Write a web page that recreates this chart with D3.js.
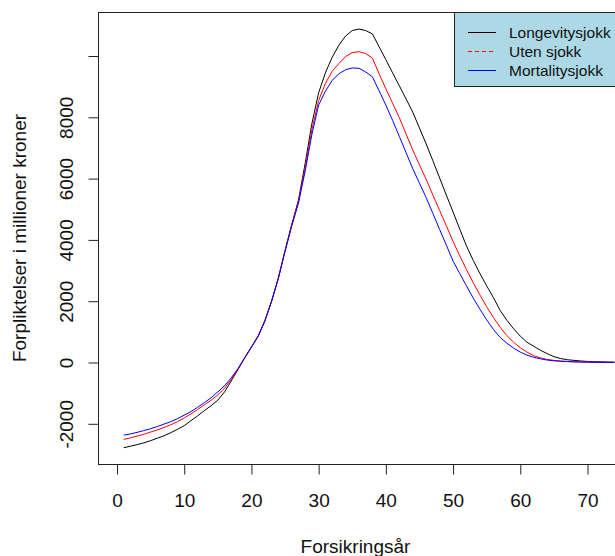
<!DOCTYPE html>
<html>
<head>
<meta charset="utf-8">
<script src="https://cdn.jsdelivr.net/npm/d3@7"></script>
<style>
  body { margin: 0; background: #fff; }
  svg { display: block; font-family: "Liberation Sans", Arial, sans-serif; }
</style>
</head>
<body>
<svg id="chart" width="615" height="556"></svg>
<script>
// years 1..74
var years = d3.range(1, 75);

var longevity = [
  -2780, -2730, -2680, -2620, -2550, -2470, -2390, -2290, -2180, -2060,
  -1900, -1740, -1570, -1410, -1230, -960, -600, -230, 150, 500,
  850, 1350, 2000, 2750, 3650, 4500, 5300, 6500, 7800, 8800,
  9450, 9950, 10350, 10650, 10830, 10880, 10830, 10720, 10300, 9880,
  9450, 9030, 8600, 8170, 7650, 7130, 6580, 6020, 5460, 4910,
  4350, 3800, 3330, 2900, 2500, 2120, 1700, 1380, 1100, 860,
  660, 530, 400, 290, 190, 130, 90, 70, 50, 35,
  25, 20, 15, 10
];
var utenSjokk = [
  -2510, -2460, -2400, -2340, -2270, -2200, -2120, -2030, -1930, -1810,
  -1680, -1530, -1380, -1230, -1060, -840, -550, -220, 150, 500,
  860, 1360, 2000, 2750, 3650, 4500, 5250, 6350, 7600, 8550,
  9100, 9500, 9750, 9980, 10110, 10140, 10080, 9930, 9420, 8930,
  8460, 7990, 7460, 6930, 6450, 5970, 5460, 4960, 4460, 3950,
  3480, 3030, 2600, 2200, 1820, 1470, 1150, 880, 660, 480,
  340, 220, 150, 100, 70, 50, 35, 25, 20, 15,
  10, 8, 5, 5
];
var mortality = [
  -2370, -2330, -2280, -2220, -2160, -2090, -2010, -1930, -1830, -1720,
  -1600, -1460, -1310, -1150, -960, -760, -500, -200, 160, 510,
  870, 1370, 2000, 2740, 3620, 4450, 5200, 6250, 7450, 8400,
  8850, 9200, 9420, 9550, 9610, 9600, 9480, 9320, 8860, 8400,
  7900, 7380, 6850, 6320, 5850, 5380, 4860, 4340, 3830, 3310,
  2900, 2500, 2100, 1740, 1390, 1080, 820, 630, 470, 340,
  240, 170, 120, 80, 55, 40, 30, 20, 15, 10,
  8, 5, 5, 5
];

var seriesNames = ["Longevitysjokk", "Uten sjokk", "Mortalitysjokk"];
var seriesColors = ["#000000", "#ff0000", "#0000ff"];
var legendDash = [null, "4,3", null];

var xTicks = [0, 10, 20, 30, 40, 50, 60, 70];
var yTicks = [-2000, 0, 2000, 4000, 6000, 8000, 10000];
var yTickLabels = ["-2000", "0", "2000", "4000", "6000", "8000", ""];

var svg = d3.select("#chart");
var boxL = 98, boxR = 617, boxT = 12, boxB = 464;

var x = d3.scaleLinear().domain([0, 70]).range([117, 587.5]);
var y = d3.scaleLinear().domain([0, 10000]).range([362.5, 56]);

svg.append("clipPath").attr("id", "clip")
  .append("rect").attr("x", boxL).attr("y", boxT)
  .attr("width", boxR - boxL).attr("height", boxB - boxT);

var plot = svg.append("g").attr("clip-path", "url(#clip)");
var line = d3.line().x(function (d) { return x(d[0]); }).y(function (d) { return y(d[1]); });

[longevity, utenSjokk, mortality].forEach(function (vals, i) {
  plot.append("path")
    .datum(years.map(function (yr, j) { return [yr, vals[j]]; }))
    .attr("fill", "none")
    .attr("stroke", seriesColors[i])
    .attr("stroke-width", 1)
    .attr("d", line);
});

// box
svg.append("rect")
  .attr("x", boxL + 0.5).attr("y", boxT + 0.5)
  .attr("width", boxR - boxL).attr("height", boxB - boxT)
  .attr("fill", "none").attr("stroke", "#222");

// x axis
var gx = svg.append("g").attr("transform", "translate(0," + (boxB + 0.5) + ")")
  .call(d3.axisBottom(x).tickValues(xTicks).tickSize(10).tickSizeOuter(0).tickPadding(0));
gx.select(".domain").remove();
gx.selectAll(".tick line").attr("stroke", "#222");
gx.selectAll(".tick text")
  .attr("y", 42).attr("dy", null)
  .attr("font-size", 19).attr("fill", "#111");

// y axis
var gy = svg.append("g").attr("transform", "translate(" + (boxL + 0.5) + ",0)")
  .call(d3.axisLeft(y).tickValues(yTicks).tickSize(10).tickSizeOuter(0)
    .tickFormat(function (d, i) { return yTickLabels[i]; }));
gy.select(".domain").remove();
gy.selectAll(".tick line").attr("stroke", "#222");
gy.selectAll(".tick text")
  .attr("x", null).attr("dy", null)
  .attr("transform", "translate(-26,0) rotate(-90)")
  .attr("text-anchor", "middle")
  .attr("font-size", 19).attr("fill", "#111");
gy.selectAll(".tick text").filter(function () { return this.textContent === ""; }).remove();

// axis titles
svg.append("text")
  .attr("x", 355.5).attr("y", 553)
  .attr("text-anchor", "middle").attr("font-size", 19).attr("fill", "#111")
  .text("Forsikringsår");
svg.append("text")
  .attr("transform", "translate(26," + ((boxT + boxB) / 2) + ") rotate(-90)")
  .attr("text-anchor", "middle").attr("font-size", 19).attr("fill", "#111")
  .text("Forpliktelser i millioner kroner");

// legend
var lg = svg.append("g");
lg.append("rect")
  .attr("x", 454.5).attr("y", 12.5).attr("width", 170).attr("height", 74)
  .attr("fill", "#add8e6").attr("stroke", "#222");
seriesNames.forEach(function (name, i) {
  var ly = Math.round(32 + i * 18.8) + 0.5;
  lg.append("line")
    .attr("x1", 468).attr("x2", 496).attr("y1", ly).attr("y2", ly)
    .attr("stroke", seriesColors[i]).attr("stroke-width", 1)
    .attr("stroke-dasharray", legendDash[i]);
  lg.append("text")
    .attr("x", 509).attr("y", ly + 5.5)
    .attr("font-size", 15.5).attr("fill", "#111")
    .text(name);
});
</script>
</body>
</html>
